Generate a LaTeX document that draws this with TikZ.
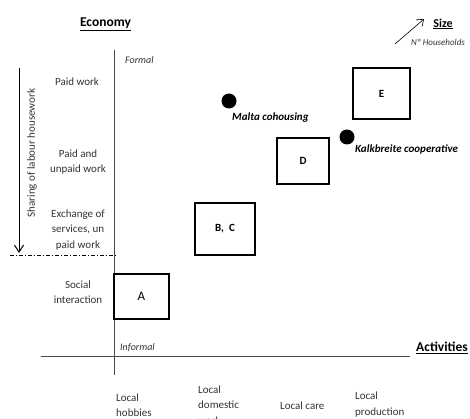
\documentclass[tikz,border=0pt]{standalone}
\usepackage{fontspec}
\setmainfont{Carlito}
\usetikzlibrary{arrows.meta}

\tikzset{
  lbl/.style={font=\fontsize{11}{15.5}\selectfont, text=black!80, align=center, inner sep=0pt},
  actlbl/.style={lbl, align=left, anchor=west},
  head/.style={font=\fontsize{13.5}{16}\selectfont\bfseries, inner sep=0pt},
  square/.style={draw, line width=1.1pt, inner sep=0pt, font=\fontsize{11}{13}\selectfont\bfseries},
  place/.style={font=\fontsize{11}{13}\selectfont\bfseries\itshape, inner sep=0pt, anchor=west},
  dot/.style={circle, fill=black, inner sep=0pt, minimum size=15pt},
  axis/.style={line width=0.8pt, draw=black!70}
}

\begin{document}
\begin{tikzpicture}[x=1pt,y=-1pt]
  \useasboundingbox (0,0) rectangle (470,419);

  % axes
  \coordinate (ytop) at (114,50);
  \coordinate (ybot) at (114,375);
  \coordinate (xleft) at (41,356);
  \coordinate (xright) at (410,356);
  \draw[axis] (ytop) -- (ybot);
  \draw[axis] (xleft) -- (xright);

  \node[head] (economy) at (105.5,24) {\underline{Economy}};
  \node[head] (activities) at (442,348) {\underline{Activities}};
  \node[lbl, font=\fontsize{10}{12}\selectfont\itshape, anchor=west] (formal) at (125,60) {Formal};
  \node[lbl, font=\fontsize{10}{12}\selectfont\itshape, anchor=west] (informal) at (120,348) {Informal};

  % size legend
  \coordinate (s0) at (395,44);
  \coordinate (s1) at (424,19);
  \draw[-{Straight Barb[length=6pt,width=9pt]}, line width=0.6pt] (s0) -- (s1);
  \node[head, font=\fontsize{12}{14}\selectfont\bfseries] (size) at (443,24) {\underline{Size}};
  \node[lbl, font=\fontsize{9}{11}\selectfont\itshape, anchor=west] (hh) at (411,42) {Nº Households};

  % sharing of housework
  \coordinate (h0) at (19,68);
  \coordinate (h1) at (19,253);
  \draw[-{Straight Barb[length=7pt,width=9pt]}, line width=1pt] (h0) -- (h1);
  \node[lbl, rotate=90] (sharing) at (32,153) {Sharing of labour housework};
  \coordinate (d0) at (10,255);
  \coordinate (d1) at (116,255);
  \draw[dash pattern=on 4pt off 2pt on 1pt off 2pt, line width=0.7pt] (d0) -- (d1);

  % economy levels
  \node[lbl] (paid) at (77,82) {Paid work};
  \node[lbl] (mixed) at (78,162) {Paid and\\unpaid work};
  \node[lbl] (exchange) at (78,230) {Exchange of\\services, un\\paid work};
  \node[lbl] (social) at (78,292) {Social\\interaction};

  % activity levels
  \node[actlbl] (hobbies) at (116,405) {Local\\hobbies};
  \node[actlbl] (domestic) at (198,405) {Local\\domestic\\work};
  \node[actlbl] (care) at (280,406) {Local care};
  \node[actlbl] (production) at (355,404.5) {Local\\production};

  % cases
  \node[square, minimum width=55pt, minimum height=45pt, font=\fontsize{13}{15}\selectfont] (A) at (141.5,296.5) {A};
  \node[square, minimum width=60pt, minimum height=52pt] (BC) at (225,229) {B,\ \ C};
  \node[square, minimum width=52pt, minimum height=46pt] (D) at (303,161) {D};
  \node[square, minimum width=57pt, minimum height=51pt] (E) at (381.5,93.5) {E};

  \node[dot] (malta) at (229,101) {};
  \node[place] (maltalbl) at (232,118) {Malta cohousing};
  \node[dot] (kalk) at (347,137) {};
  \node[place] (kalklbl) at (355,150) {Kalkbreite cooperative};
\end{tikzpicture}
\end{document}
